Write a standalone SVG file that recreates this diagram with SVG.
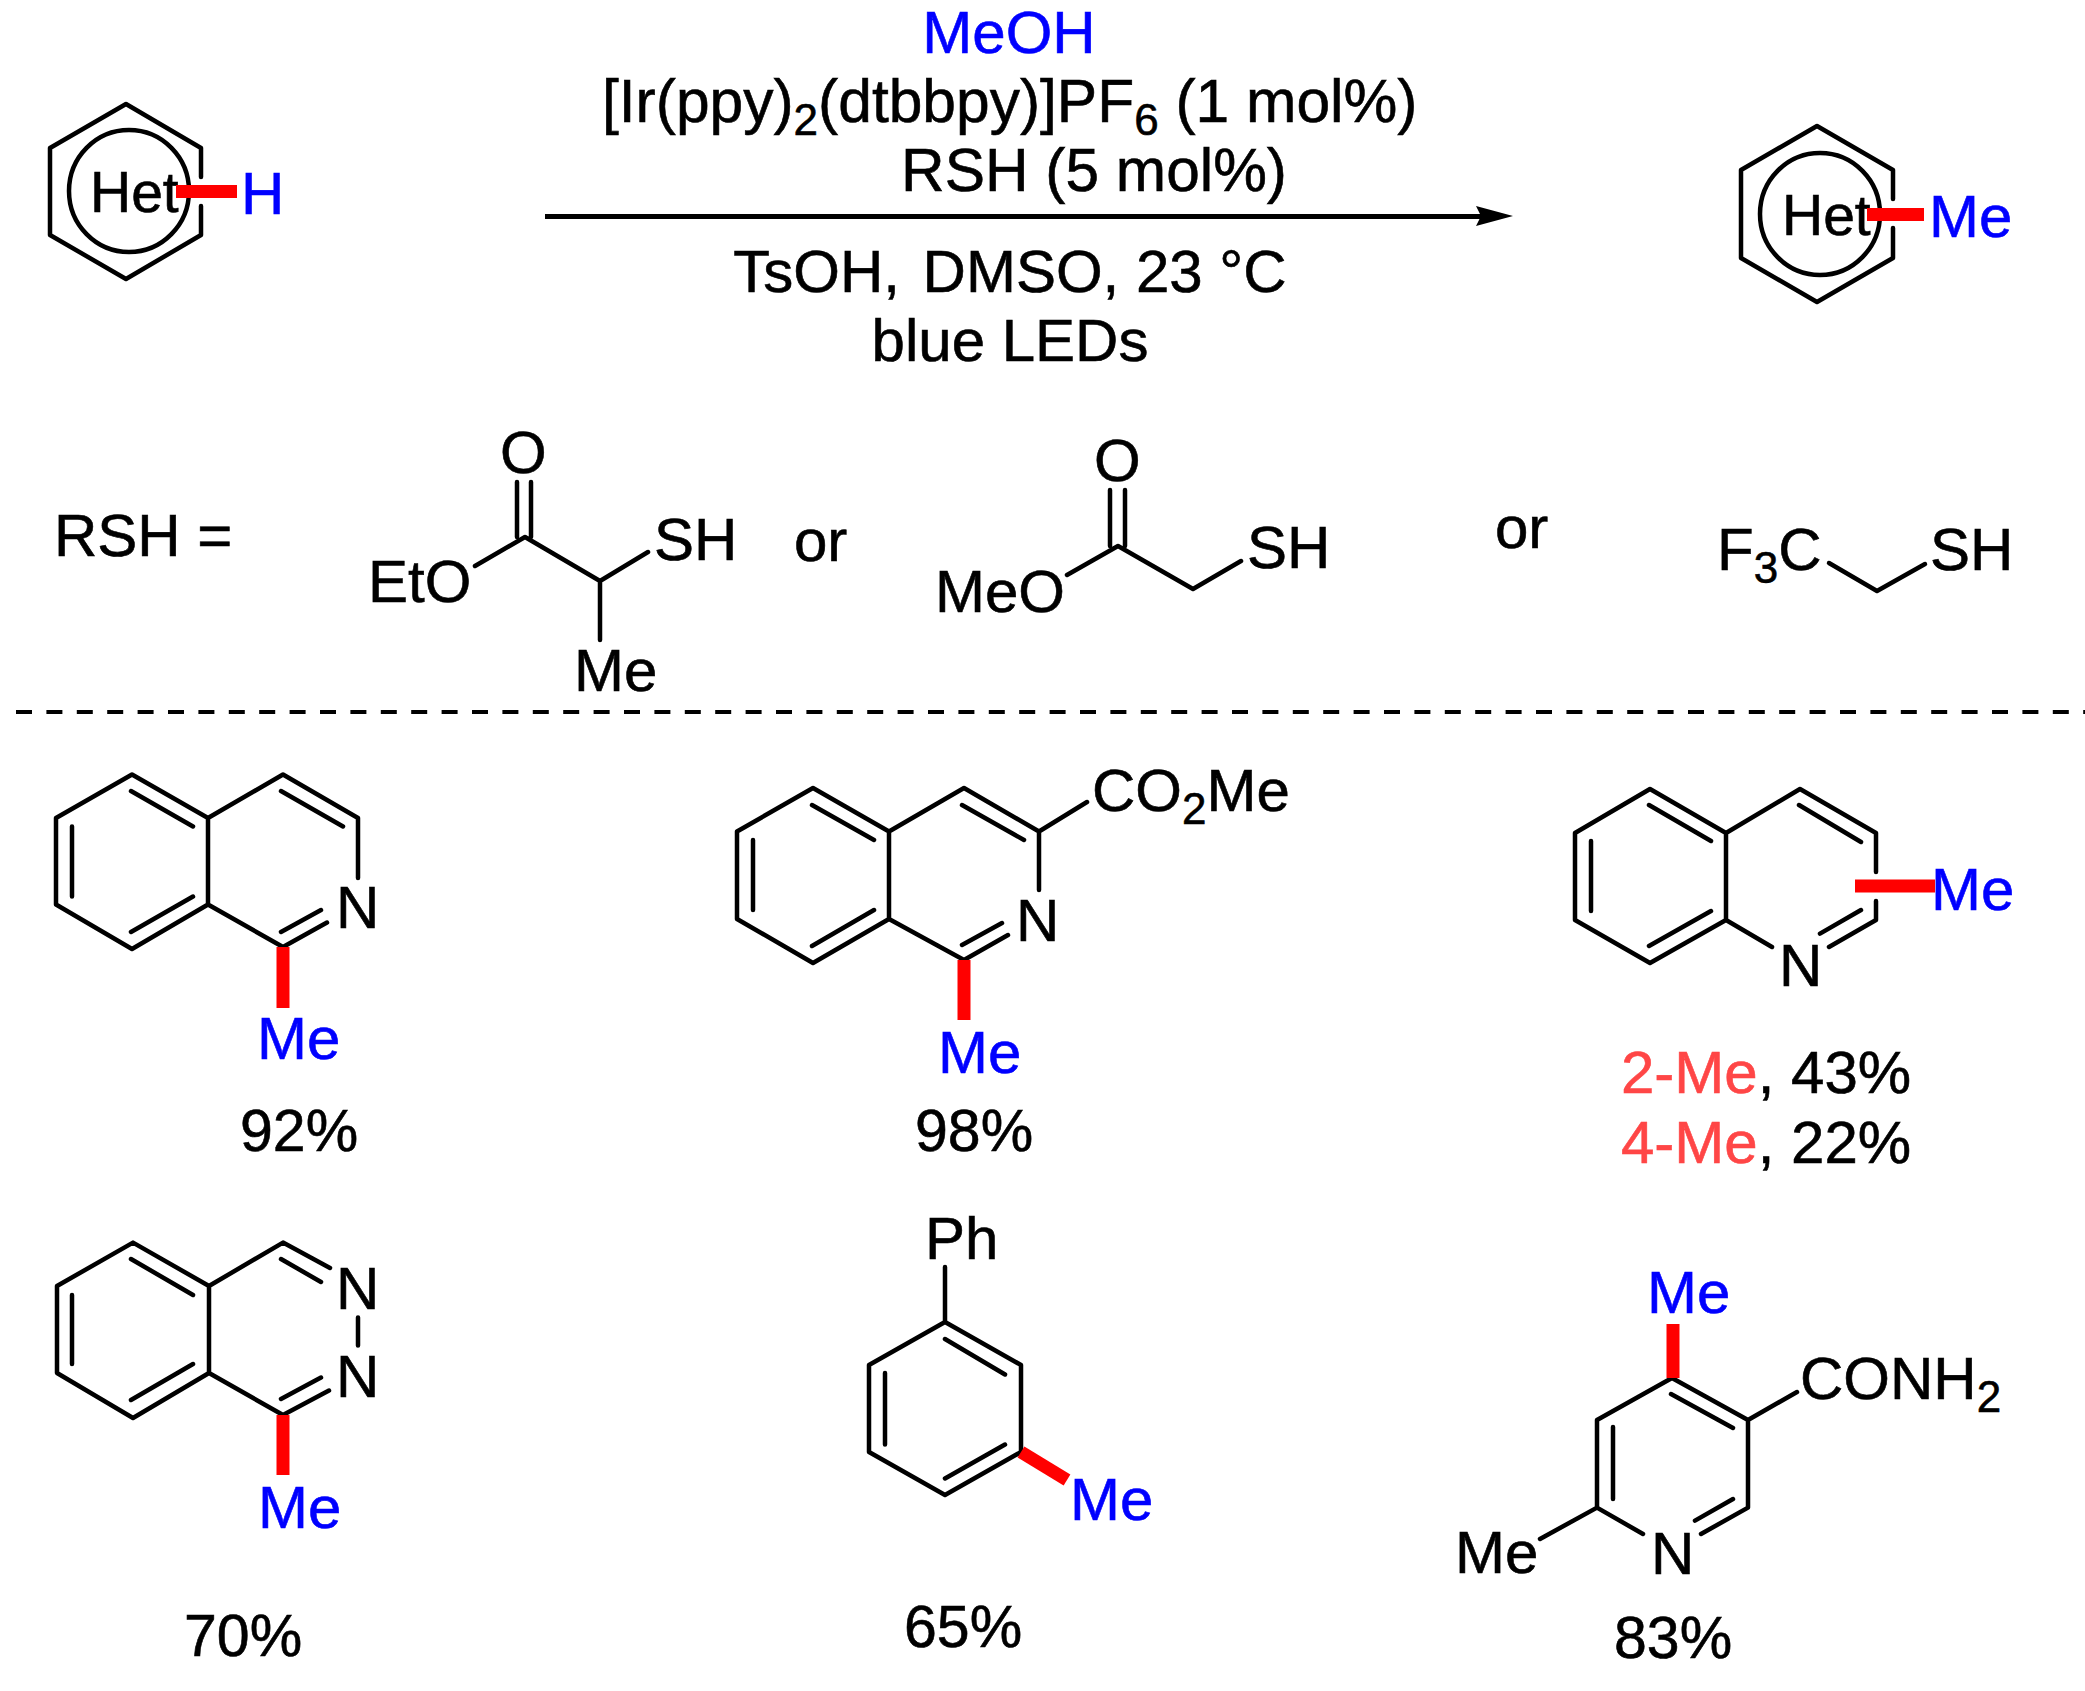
<svg xmlns="http://www.w3.org/2000/svg" width="2085" height="1691" viewBox="0 0 2085 1691">
<style>
text{font-family:"Liberation Sans",Arial,sans-serif;font-size:60px;fill:#000;stroke:#000;stroke-width:.6}
.b{fill:#0000ff;stroke:#0000ff}
.p{fill:#ff4646;stroke:#ff4646}
.s{font-size:44px}
.y{font-size:59px}
.h{font-size:57px}
.bond{fill:none;stroke:#000;stroke-width:4.5;stroke-linecap:round;stroke-linejoin:round}
.red{fill:none;stroke:#ff0000;stroke-width:13}
</style>
<rect width="2085" height="1691" fill="#fff"/>
<g id="connectors">
<line x1="545" y1="216.500" x2="1482" y2="216.500" stroke="#000" stroke-width="5"/>
<polygon points="1513,216 1476,206 1481,216 1476,226" fill="#000"/>
<line x1="16" y1="712" x2="2085" y2="712" stroke="#000" stroke-width="4" stroke-dasharray="16 14.400"/>
</g>
<g id="substrate">
<path class="bond" d="M201 177V148L126 104L50 148V235L126 279L201 235V206"/>
<ellipse class="bond" cx="129" cy="191" rx="60" ry="61"/>
<text class="h" x="90" y="212">Het</text>
<line class="red" x1="176" y1="191.500" x2="237" y2="191.500"/>
<text class="b" x="241" y="214">H</text>
</g>
<g id="conditions">
<text class="b" x="1009" y="53" text-anchor="middle">MeOH</text>
<text x="602" y="122" style="font-size:60.500px">[Ir(ppy)<tspan class="s" dy="13">2</tspan><tspan dy="-13">(dtbbpy)]PF</tspan><tspan class="s" dy="13">6</tspan><tspan dy="-13"> (1 mol%)</tspan></text>
<text x="1094" y="191" text-anchor="middle" style="font-size:60.400px">RSH (5 mol%)</text>
<text x="1010" y="292" text-anchor="middle">TsOH,<tspan dx="6"> DMSO, 23 °C</tspan></text>
<text x="1010" y="361" text-anchor="middle">blue LEDs</text>
</g>
<g id="product">
<path class="bond" d="M1893 199V170L1817 126L1741 170V258L1817 302L1893 258V228"/>
<ellipse class="bond" cx="1820" cy="214" rx="60" ry="61"/>
<text class="h" x="1782" y="235">Het</text>
<line class="red" x1="1867" y1="214.500" x2="1924" y2="214.500"/>
<text class="b" x="1929" y="237">Me</text>
</g>
<g id="rsh-label"><text x="54" y="556">RSH =</text></g>
<g id="thiol-1">
<path class="bond" d="M517 482V537M531 482V537M475 566L525 537L600 581L648 552M600 581V640"/>
<text x="500" y="473">O</text>
<text x="368" y="602">EtO</text>
<text x="654" y="560">SH</text>
<text x="574" y="691">Me</text>
</g>
<text id="or-1" x="794" y="561">or</text>
<g id="thiol-2">
<path class="bond" d="M1110 490V546M1125 490V546M1067 575L1118 546L1193 589L1241 561"/>
<text x="1094" y="481">O</text>
<text x="935" y="612">MeO</text>
<text x="1247" y="568">SH</text>
</g>
<text id="or-2" x="1495" y="548">or</text>
<g id="thiol-3">
<path class="bond" d="M1829 563L1877 591L1925 564"/>
<text x="1717" y="570">F<tspan class="s" dy="13">3</tspan><tspan dy="-13">C</tspan></text>
<text x="1930" y="570">SH</text>
</g>
<g id="mol-a">
<path class="bond" d="M208 818L132 774.500L56 818V904.500L132 949L208 904.500V818L283 774.500L358 818V878M208 904.500L283 947L327 922.500M72 826.500V896.500M131 791L193 826.500M131 932L193 896.500M281 791L343 826.500M281 932L321 910"/>
<line class="red" x1="283" y1="947" x2="283" y2="1008"/>
<text x="336" y="928">N</text>
<text class="b" x="257" y="1059">Me</text>
<text class="y" x="240" y="1151">92%</text>
</g>
<g id="mol-b">
<path class="bond" d="M889 831.500L813 788L737 831.500V919L813 963L889 919V831.500L964 788L1039 831.500V890M889 919L964 960L1008 935M753 840V910M812 805L874 840M812 946L874 910M962 805L1024 840M962 945L1002 923M1039 831.500L1087 802"/>
<line class="red" x1="964" y1="960" x2="964" y2="1020"/>
<text x="1016" y="941">N</text>
<text class="b" x="938" y="1073">Me</text>
<text class="y" x="915" y="1151">98%</text>
<text x="1092" y="811">CO<tspan class="s" dy="13">2</tspan><tspan dy="-13">Me</tspan></text>
</g>
<g id="mol-c">
<path class="bond" d="M1726 833L1650 789L1575 833V920L1650 963L1726 920V833L1800 789L1876 833V872M1876 901V920L1829 947M1726 920L1772 947M1591 841V911M1649 805L1711 841M1649 946L1711 911M1799 805L1861 842M1820 933.600L1861 910"/>
<line class="red" x1="1855" y1="886" x2="1935" y2="886"/>
<text x="1779" y="986">N</text>
<text class="b" x="1931" y="910">Me</text>
<text x="1621" y="1093"><tspan class="p">2-Me</tspan>, 43%</text>
<text x="1621" y="1163"><tspan class="p">4-Me</tspan>, 22%</text>
</g>
<g id="mol-d">
<path class="bond" d="M209 1286L133 1242.600L57 1286V1373L133 1418L209 1373V1286L283 1242.600L330 1268M209 1373L283 1415L329 1390.600M72 1295V1364M131 1259L193 1295M131 1400L193 1364M281 1259L321 1282M281 1399L321 1377.600M358 1317.500V1345.400"/>
<line class="red" x1="283" y1="1415" x2="283" y2="1475"/>
<text x="336" y="1309">N</text>
<text x="336" y="1397">N</text>
<text class="b" x="258" y="1528">Me</text>
<text class="y" x="184" y="1656">70%</text>
</g>
<g id="mol-e">
<path class="bond" d="M945 1267V1322L1021 1365V1452L945 1495L869 1452V1365L945 1322M945 1339L1005 1374.500M885 1373V1444.500M945 1478.500L1005 1444.500"/>
<line class="red" x1="1021" y1="1452" x2="1067" y2="1480"/>
<text x="925" y="1259">Ph</text>
<text class="b" x="1070" y="1520">Me</text>
<text class="y" x="904" y="1647">65%</text>
</g>
<g id="mol-f">
<path class="bond" d="M1643 1534L1597 1507.600V1420L1672 1378L1748 1420V1507.600L1701 1534M1671 1394L1733 1428M1613 1427V1499M1695 1520.600L1733 1499M1748 1420L1797 1392M1597 1507.600L1540 1539"/>
<line class="red" x1="1673" y1="1324" x2="1673" y2="1378"/>
<text class="b" x="1647" y="1313">Me</text>
<text x="1800" y="1399">CONH<tspan class="s" dy="13">2</tspan></text>
<text x="1651" y="1574">N</text>
<text x="1455" y="1573">Me</text>
<text class="y" x="1614" y="1658">83%</text>
</g>
</svg>
